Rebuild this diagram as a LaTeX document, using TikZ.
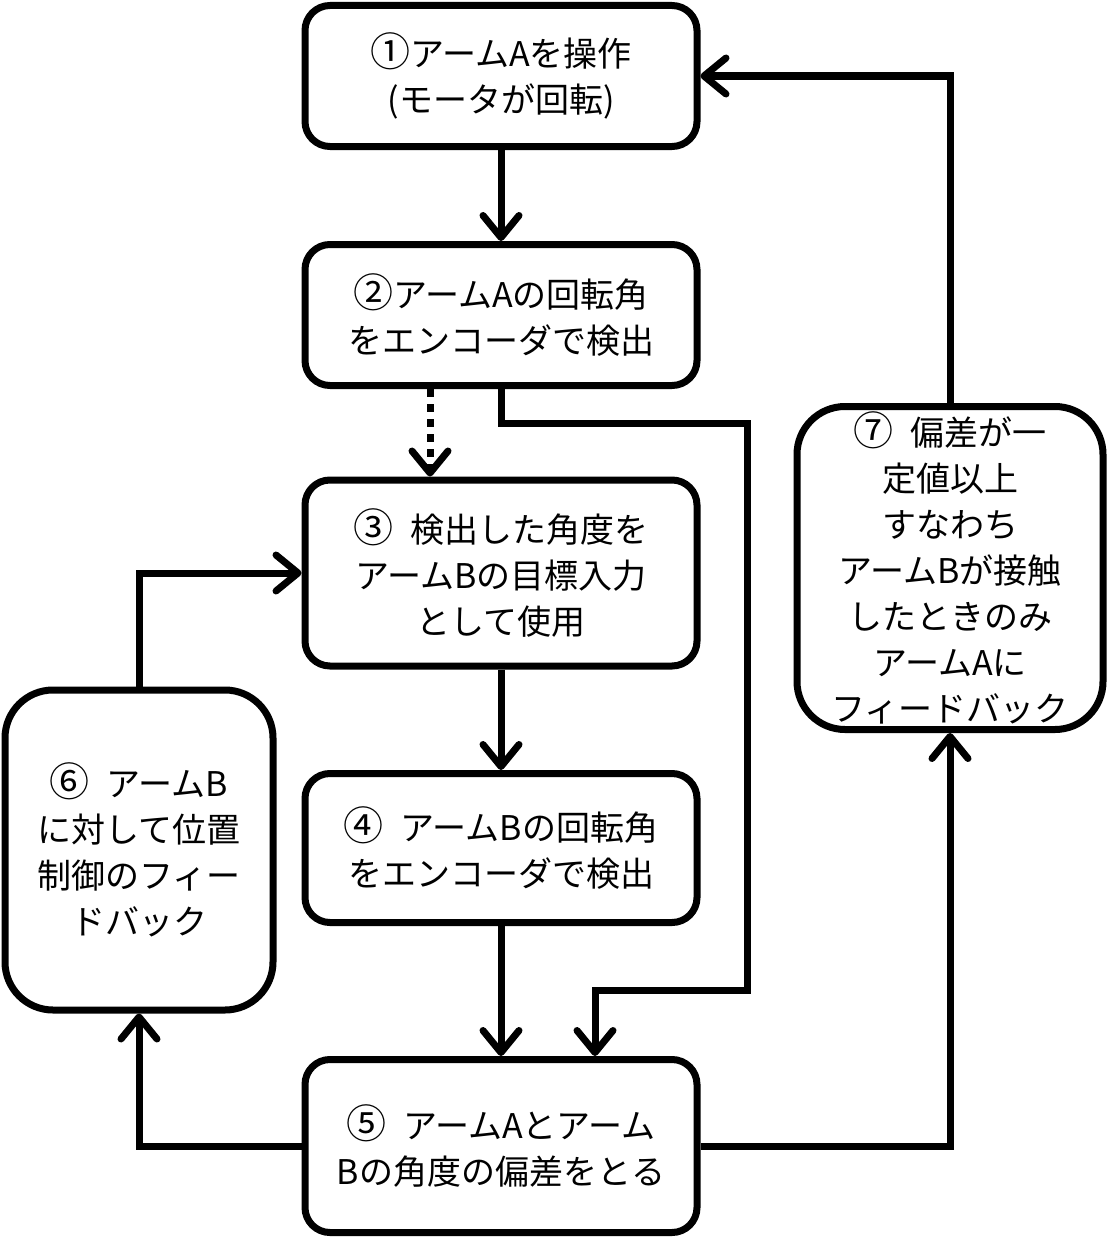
\documentclass[tikz,border=0pt]{standalone}
\usepackage{fontspec}
\setmainfont{Noto Sans CJK JP}
\usetikzlibrary{arrows.meta}
\tikzset{
  box/.style={draw, line width=7pt, rounded corners=25pt, align=center, fill=white,
    font={\fontsize{34}{46}\selectfont}, inner sep=0pt},
  bigbox/.style={box, rounded corners=48pt},
  arr/.style={line width=7pt, -{Straight Barb[length=22pt,width=36pt,round,line width=7pt]}},
}
\newcommand{\gp}{\hspace{0.5em}}
\newcommand{\cnum}[1]{{\fontsize{40}{46}\selectfont #1}}
\begin{document}
\begin{tikzpicture}[x=1pt,y=-1pt]
\useasboundingbox (0,0) rectangle (1107,1239);
\node[box, minimum width=392pt, minimum height=141pt] (b1) at (501,76) {\cnum{①}アームAを操作\\(モータが回転)};
\node[box, minimum width=392pt, minimum height=141pt] (b2) at (501,315) {\cnum{②}アームAの回転角\\をエンコーダで検出};
\node[box, minimum width=392pt, minimum height=186pt] (b3) at (501,573) {\cnum{③}\gp 検出した角度を\\アームBの目標入力\\として使用};
\node[box, minimum width=392pt, minimum height=149pt] (b4) at (501,848) {\cnum{④}\gp アームBの回転角\\をエンコーダで検出};
\node[box, minimum width=392pt, minimum height=173pt] (b5) at (501,1146) {\cnum{⑤}\gp アームAとアーム\\Bの角度の偏差をとる};
\node[bigbox, minimum width=268pt, minimum height=320pt] (b6) at (139,850) {\cnum{⑥}\gp アームB\\に対して位置\\制御のフィー\\ドバック};
\node[bigbox, minimum width=306pt, minimum height=323pt] (b7) at (950,568) {\cnum{⑦}\gp 偏差が一\\定値以上\\すなわち\\アームBが接触\\したときのみ\\アームAに\\フィードバック};

\coordinate (c1) at (747,423);
\coordinate (c2) at (747,990);

\draw[arr] (b1) -- (b2);
\draw[arr, dash pattern=on 8pt off 7pt] ([xshift=-71pt]b2.south) -- ([xshift=-71pt]b3.north);
\draw[arr] (b2.south) |- (c1) -- (c2) -| ([xshift=94pt]b5.north);
\draw[arr] (b3) -- (b4);
\draw[arr] (b4) -- (b5);
\draw[arr] (b5.west) -| (b6.south);
\draw[arr] (b6.north) |- (b3.west);
\draw[arr] (b5.east) -| (b7.south);
\draw[arr] (b7.north) |- (b1.east);
\end{tikzpicture}
\end{document}
